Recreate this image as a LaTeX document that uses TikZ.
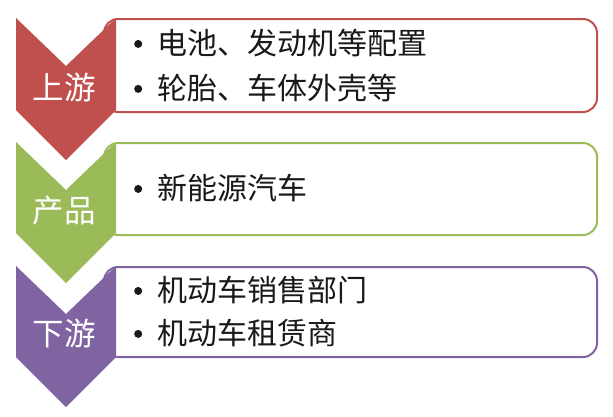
\documentclass[tikz,border=0pt]{standalone}
\usepackage{fontspec}
\newfontfamily\cjk{Noto Sans CJK SC}
\definecolor{upred}{HTML}{C0504D}
\definecolor{prodgreen}{HTML}{9BBB59}
\definecolor{downpurple}{HTML}{8064A2}
\newcommand{\dotitem}{\raisebox{6.5pt}{\tikz\fill (0,0) circle (4pt);}\hspace{15pt}}

\begin{document}
\begin{tikzpicture}[x=1pt,y=-1pt,
  panel/.style={draw=#1,line width=2pt,rounded corners=14pt,fill=white},
  tag/.style={text=white,font=\cjk\fontsize{31.5}{31.5}\selectfont},
  item/.style={anchor=west,inner sep=0pt,font=\cjk\fontsize{30}{30}\selectfont,text=black!90}]
  \useasboundingbox (0,0) rectangle (613,416);

  % upstream
  \draw[panel=upred] (104,19) rectangle (597,112);
  \fill[upred] (16,18) -- (66,66) -- (116,18) -- (116,110) -- (66,160) -- (16,110) -- cycle;
  \node[tag] (U) at (64,88) {上游};
  \node[item] (U1) at (134,43) {\dotitem 电池、发动机等配置};
  \node[item] (U2) at (134,88) {\dotitem 轮胎、车体外壳等};

  % product
  \draw[panel=prodgreen] (104,143) rectangle (597,235);
  \fill[prodgreen] (16,142) -- (66,190) -- (116,142) -- (116,233) -- (66,283) -- (16,233) -- cycle;
  \node[tag] (P) at (64,211) {产品};
  \node[item] (P1) at (134,188) {\dotitem 新能源汽车};

  % downstream
  \draw[panel=downpurple] (104,267) rectangle (597,357);
  \fill[downpurple] (16,266) -- (66,314) -- (116,266) -- (116,357) -- (66,407) -- (16,357) -- cycle;
  \node[tag] (D) at (64,334) {下游};
  \node[item] (D1) at (134,290) {\dotitem 机动车销售部门};
  \node[item] (D2) at (134,333) {\dotitem 机动车租赁商};
\end{tikzpicture}
\end{document}
